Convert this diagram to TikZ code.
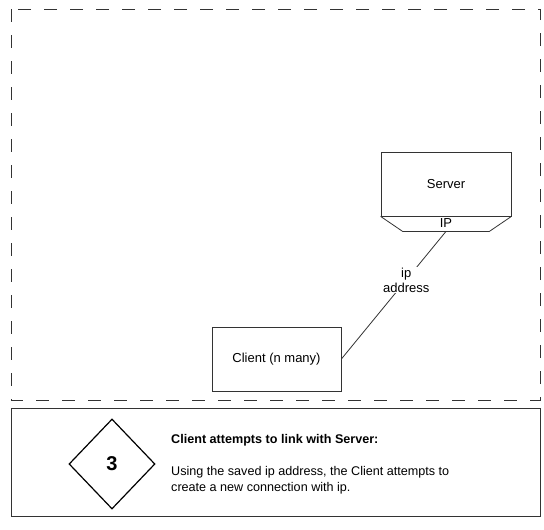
\documentclass[tikz,border=0pt]{standalone}
\usepackage{fontspec}
\setmainfont{Liberation Sans}
\usetikzlibrary{shapes.geometric, positioning, calc}

\begin{document}
\begin{tikzpicture}[
  x=1pt, y=-1pt,
  box/.style    = {rectangle, draw=black!80, fill=white, line width=0.8pt,
                   minimum width=130pt, minimum height=64pt,
                   font=\fontsize{13}{15}\selectfont, inner sep=0pt},
  wire/.style   = {draw=black!80, line width=0.8pt},
  lbl/.style    = {font=\fontsize{13}{15}\selectfont, align=center, fill=white, inner sep=1pt},
  region/.style = {draw=black!80, line width=0.8pt, dash pattern=on 13pt off 13pt},
]
\useasboundingbox (0,0) rectangle (544,530);

% -- Scene: dashed region ---------------------------------------------------
\draw[region] (11,9) rectangle (540,400);

% -- Server with IP port ----------------------------------------------------
\node[box] (server) at (446,184) {Server};
\coordinate (portsw) at ($(server.south west)+(22,15)$);
\coordinate (portse) at ($(server.south east)+(-22,15)$);
\draw[wire, line join=miter] (server.south west) -- (portsw) -- (portse) -- (server.south east);
\node[font=\fontsize{13}{15}\selectfont, inner sep=0pt, below=1.5pt of server] (ip) {IP};
\coordinate (portin) at (portsw -| ip.south);

% -- Client -----------------------------------------------------------------
\node[box, minimum width=129pt] (client) at (276.5,359) {Client (n many)};

% -- Link -------------------------------------------------------------------
\draw[wire] (client.east) -- (portin)
  node[lbl, pos=0.62] {ip\\address};

% -- Step caption -----------------------------------------------------------
\node[draw=black!80, line width=0.8pt, minimum width=529pt, minimum height=108pt,
      inner sep=0pt] (caption) at (275.5,462) {};
\node[diamond, draw=black, line width=1.2pt, minimum width=86pt, minimum height=90pt,
      inner sep=0pt, font=\fontsize{20}{22}\selectfont\bfseries] (step) at (112,464) {3};
\node[anchor=west, font=\fontsize{12.6}{14}\selectfont\bfseries, inner sep=0pt]
  (title) at (171,440) {Client attempts to link with Server:};
\node[anchor=north west, align=left, font=\fontsize{12.6}{16.5}\selectfont, inner sep=0pt]
  (body) at (171,466) {Using the saved ip address, the Client attempts to\\create a new connection with ip.};

\end{tikzpicture}
\end{document}
